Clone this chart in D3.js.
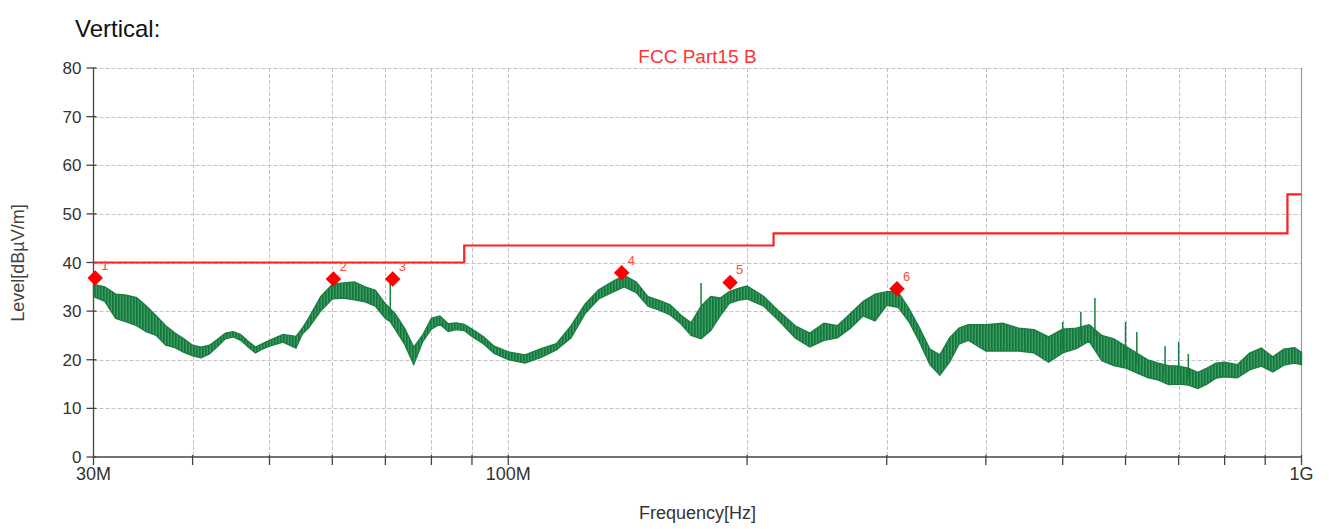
<!DOCTYPE html>
<html>
<head>
<meta charset="utf-8">
<script src="https://cdn.jsdelivr.net/npm/d3@7"></script>
<style>
  body { margin: 0; background: #fff; }
  svg { font-family: "Liberation Sans", Arial, sans-serif; }
</style>
</head>
<body>
<svg id="chart" width="1333" height="529"></svg>
<script>
// scan trace (MHz, dBuV/m): upper and lower edge of the noisy band
var traceFreq = [30,31,32,33,34,35,36,37,38,39,40,41,42,43,44,45,46,47,48,49,50,52,54,55,56,58,60,62,64,66,68,70,71,72,74,76,78,80,82,84,86,88,90,93,96,100,105,110,115,120,125,130,135,140,145,150,155,160,165,170,175,180,185,190,195,200,210,220,230,240,250,260,270,280,290,300,310,320,330,340,350,360,370,380,400,420,440,460,480,500,520,540,560,580,600,620,640,660,680,700,720,740,760,780,800,830,860,890,920,950,980,1000];
var traceHigh = [35.5,35,33.5,33.3,32.8,31,29,27,25.5,24.3,23,22.6,23,24.2,25.5,25.8,25.2,23.8,22.6,23.3,24,25.2,24.8,26.5,28.5,33,35.5,35.8,36,35,34.3,31.5,30.5,29.5,26.5,22.6,25.1,28.5,29,27.4,27.6,27.3,26.3,24.8,22.8,21.6,21,22.3,23.3,27,31.5,34.4,36,37.4,36,33,32.2,31.3,29.2,27.6,31,33,32.7,34,34.7,35.2,33,29.8,27,25.5,27.5,27,29.5,32,33.5,34,34,30.5,26.5,22.2,21,24.5,26.5,27.2,27.2,27.5,26.5,26.2,24.7,26.3,26.5,27.2,25,24.3,22.8,21.4,20,19.3,18.8,18.7,18.3,17.4,18.3,19.3,19.5,19,21.4,22.4,20.6,22.2,22.5,21.5];
var traceLow = [33,32,28.5,27.8,27,25.7,25,23,22.5,21.5,20.8,20.4,21.2,22.7,24.3,24.7,24,22.6,21.4,22.2,22.8,23.6,22.4,25.3,26.5,30,32.5,32.7,32.3,31.9,31,28.5,27.8,26.3,23.2,19,23.7,26.3,27.3,25.8,26.2,26,24.8,23.3,21.3,20,19.3,20.5,22,24.5,29.5,32.5,33.8,35,33.8,31,30.2,29.2,27.4,25,24.3,26,29,31.6,32.2,32.5,31,27.8,24.5,22.6,24,24.5,26.5,29,28,31.2,30.8,27.8,23.6,19,16.8,19.5,23.2,24,21.8,21.8,21.8,21.4,19.5,21.4,22.3,23.8,19.8,18.8,18.3,17.3,16.3,15.8,14.9,15,14.8,14.1,15,16.2,16.5,16.3,17.9,18.7,17.5,18.9,19.3,19];

// single spikes sticking out of the band
var spikeFreq = [71,175,500,527,549,600,620,673,700,720];
var spikeTop  = [36,35.8,27.8,29.8,32.7,27.8,25.7,22.8,23.7,21.2];
var spikeBase = [29,27,22,24,25,20,19,17,17,16];

// FCC Part15 B limit (MHz, dBuV/m)
var limitFreq  = [30,88,88,216,216,960,960,1000];
var limitLevel = [40,40,43.5,43.5,46,46,54,54];

// peak markers
var markerFreq  = [30.15,60.2,71.5,139,190.4,309];
var markerLevel = [36.8,36.6,36.6,37.9,35.9,34.6];
var markerLabel = ["1","2","3","4","5","6"];

var yTicks = [0,10,20,30,40,50,60,70,80];
var xGrid = [40,50,60,70,80,90,100,200,300,400,500,600,700,800,900];
var xLabels = [[30,"30M"],[100,"100M"],[1000,"1G"]];

var pl = 93.5, pr = 1301.5, pt = 68, pb = 457;
var svg = d3.select("#chart");

var x = d3.scaleLog().domain([30, 1000]).range([pl, pr]);
var y = d3.scaleLinear().domain([0, 80]).range([pb, pt]);

// hatched fill for the dense scan
var pat = svg.append("defs").append("pattern").attr("id", "scan")
    .attr("patternUnits", "userSpaceOnUse").attr("width", 3).attr("height", 6);
pat.append("rect").attr("width", 3).attr("height", 6).attr("fill", "#3d9a64");
pat.append("rect").attr("x", 1).attr("width", 1.6).attr("height", 6).attr("fill", "#127638");

// grid
var grid = svg.append("g").attr("stroke", "#c4c4c4").attr("stroke-width", 1).attr("stroke-dasharray", "4,2");
grid.selectAll(".gy").data(yTicks.filter(d => d > 0)).enter().append("line")
    .attr("x1", pl).attr("x2", pr)
    .attr("y1", d => Math.round(y(d)) + 0.5).attr("y2", d => Math.round(y(d)) + 0.5);
grid.selectAll(".gx").data(xGrid).enter().append("line")
    .attr("x1", d => Math.round(x(d)) + 0.5).attr("x2", d => Math.round(x(d)) + 0.5)
    .attr("y1", pt).attr("y2", pb);

svg.append("line").attr("x1", pr).attr("x2", pr).attr("y1", pt).attr("y2", pb)
    .attr("stroke", "#9a9a9a").attr("stroke-width", 1.2);

// axes
var ax = svg.append("g").attr("stroke", "#444").attr("stroke-width", 1.3);
ax.append("line").attr("x1", pl).attr("x2", pl).attr("y1", pt).attr("y2", pb);
ax.append("line").attr("x1", pl).attr("x2", pr).attr("y1", pb).attr("y2", pb);
ax.selectAll(".ty").data(yTicks).enter().append("line")
    .attr("x1", pl - 7).attr("x2", pl + 3)
    .attr("y1", d => y(d)).attr("y2", d => y(d));
ax.selectAll(".tx").data([30].concat(xGrid, [1000])).enter().append("line")
    .attr("x1", d => x(d)).attr("x2", d => x(d))
    .attr("y1", pb - 2).attr("y2", pb + 8);

svg.selectAll(".ly").data(yTicks).enter().append("text")
    .attr("x", pl - 12).attr("y", d => y(d) + 6)
    .attr("text-anchor", "end").attr("font-size", 17).attr("fill", "#333")
    .text(d => d);
svg.selectAll(".lx").data(xLabels).enter().append("text")
    .attr("x", d => x(d[0])).attr("y", pb + 23)
    .attr("text-anchor", "middle").attr("font-size", 18).attr("fill", "#333")
    .text(d => d[1]);

// trace band
var band = traceFreq.map((f, i) => ({f: f, hi: traceHigh[i], lo: traceLow[i]}));
svg.append("path").datum(band)
    .attr("d", d3.area().x(d => x(d.f)).y0(d => y(d.lo)).y1(d => y(d.hi)))
    .attr("fill", "url(#scan)").attr("stroke", "#1a7d42").attr("stroke-width", 1.3);
svg.selectAll(".spike").data(spikeFreq).enter().append("line")
    .attr("x1", d => x(d)).attr("x2", d => x(d))
    .attr("y1", (d, i) => y(spikeBase[i])).attr("y2", (d, i) => y(spikeTop[i]))
    .attr("stroke", "#1a7d42").attr("stroke-width", 1.5);

// limit
svg.append("path").datum(limitFreq.map((f, i) => [f, limitLevel[i]]))
    .attr("d", d3.line().x(d => x(d[0])).y(d => y(d[1])))
    .attr("fill", "none").attr("stroke", "#ff2020").attr("stroke-width", 2.2);

// markers
var mk = svg.selectAll(".mk").data(markerFreq).enter().append("g")
    .attr("transform", (d, i) => `translate(${x(d)},${y(markerLevel[i])})`);
mk.append("path").attr("d", d3.symbol(d3.symbolSquare, 120)).attr("transform", "rotate(45)")
    .attr("fill", "#ff0000");
mk.append("text").attr("x", 6).attr("y", -8).attr("font-size", 13).attr("fill", "#ff4a3a")
    .text((d, i) => markerLabel[i]);

// titles
svg.append("text").attr("x", 75).attr("y", 37).attr("font-size", 24).attr("fill", "#111").text("Vertical:");
svg.append("text").attr("x", (pl + pr) / 2).attr("y", 63).attr("text-anchor", "middle")
    .attr("font-size", 19).attr("fill", "#ff3333").text("FCC Part15 B");
svg.append("text").attr("x", (pl + pr) / 2).attr("y", 519).attr("text-anchor", "middle")
    .attr("font-size", 18).attr("fill", "#333").text("Frequency[Hz]");
svg.append("text").attr("transform", "translate(24,263) rotate(-90)").attr("text-anchor", "middle")
    .attr("font-size", 18).attr("fill", "#444").text("Level[dBµV/m]");
</script>
</body>
</html>
